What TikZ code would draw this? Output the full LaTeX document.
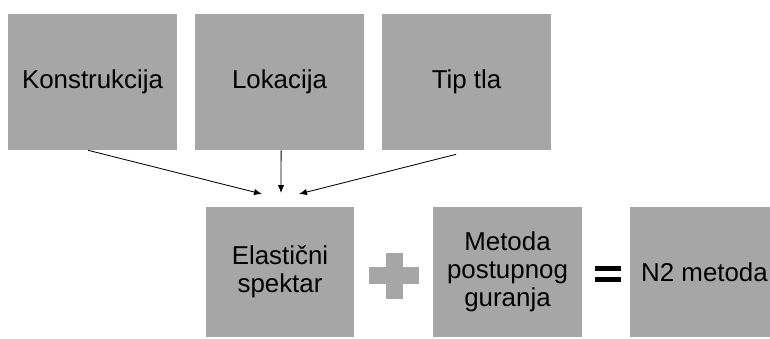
\documentclass[tikz,border=0pt]{standalone}
\usepackage{fontspec}
\setmainfont{Liberation Sans}
\usetikzlibrary{arrows.meta, positioning}
\definecolor{boxgray}{HTML}{A6A6A6}

\begin{document}
\begin{tikzpicture}[
  x=0.025cm, y=-0.025cm,
  every node/.style={font=\fontsize{18.4}{20}\selectfont},
  box/.style={rectangle, fill=boxgray, minimum width=#1, align=center, inner sep=0pt},
  topbox/.style={box=4.2cm, minimum height=3.4cm},
  botbox/.style={box=3.72cm, minimum height=3.25cm},
  arrow/.style={-{Latex[length=2mm, width=1.6mm]}, line width=0.6pt},
]
\useasboundingbox (0,0) rectangle (770,338);
\clip (0,0) rectangle (770,338);

% Input boxes
\node[topbox] (konstr) at (92.5, 82) {Konstrukcija};
\node[topbox] (lok) at (279.5, 82) {Lokacija};
\node[topbox] (tip) at (466.5, 82) {Tip tla};

% Result row
\node[botbox] (spektar) at (280, 272) {Elastični\\spektar};
\node[botbox] (pushover) at (507.5, 272) {Metoda\\postupnog\\guranja};
\node[botbox] (n2) at (704.5, 272) {N2 metoda};

% Plus and equals signs
\fill[boxgray] (369,267) rectangle (419,284);
\fill[boxgray] (386,253) rectangle (403,299);
\fill[black] (595,266) rectangle (621,271);
\fill[black] (595,277) rectangle (621,282);

% Arrows
\coordinate (k-end) at (262,194);
\coordinate (l-end) at (281,193);
\coordinate (t-end) at (299,194);
\draw[arrow] ([xshift=-0.11cm]konstr.south) -- (k-end);
\draw[arrow] ([xshift=0.04cm]lok.south) -- (l-end);
\draw[arrow] ([xshift=-0.26cm, yshift=-0.1cm]tip.south) -- (t-end);

\end{tikzpicture}
\end{document}
